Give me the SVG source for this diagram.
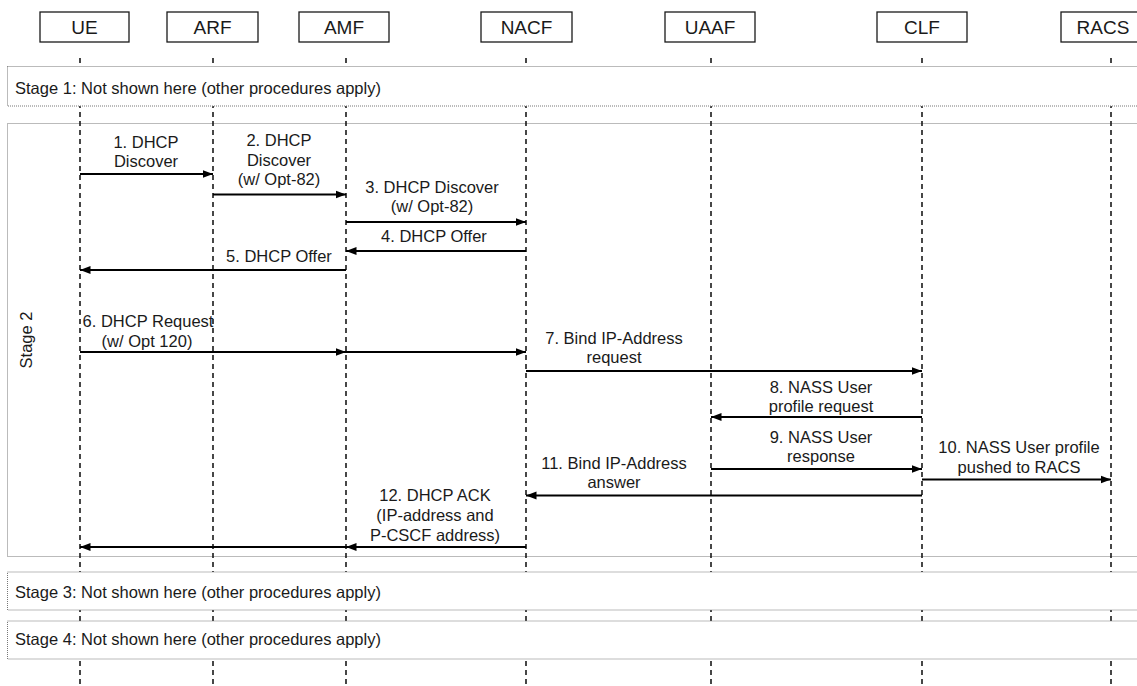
<svg xmlns="http://www.w3.org/2000/svg" width="1137" height="686" viewBox="0 0 1137 686">
<style>
text{font-family:"Liberation Sans",Arial,sans-serif;fill:#1a1a1a}
.hd{font-size:19px;text-anchor:middle}
.lb{font-size:16.5px;text-anchor:middle}
.st{font-size:16.5px}
.box{fill:#fff;stroke:#1a1a1a;stroke-width:1.3}
.life{stroke:#1a1a1a;stroke-width:1.6;stroke-dasharray:5,4;fill:none}
.stage{fill:#fff;stroke:#777;stroke-width:1;stroke-dasharray:1,1}
.stage2{fill:none;stroke:#777;stroke-width:1;stroke-dasharray:1,1}
.msg{stroke:#000;stroke-width:1.8;fill:none;marker-end:url(#ah)}
</style>
<defs>
<marker id="ah" markerUnits="userSpaceOnUse" markerWidth="11" markerHeight="9" refX="10.5" refY="4.5" orient="auto">
<path d="M0,0.5 L10.5,4.5 L0,8.5 z" fill="#000"/>
</marker>
</defs>
<rect width="1137" height="686" fill="#fff"/>
<rect class="stage2" x="7.5" y="123.5" width="1140" height="433"/>
<text class="st" transform="translate(32,340) rotate(-90)" text-anchor="middle">Stage 2</text>
<g id="UE"><rect class="box" x="40" y="12" width="89" height="30"/><text class="hd" x="84.5" y="33.5">UE</text><line class="life" x1="80" y1="58" x2="80" y2="686"/></g>
<g id="ARF"><rect class="box" x="167" y="12" width="91" height="30"/><text class="hd" x="212.5" y="33.5">ARF</text><line class="life" x1="213" y1="58" x2="213" y2="686"/></g>
<g id="AMF"><rect class="box" x="299" y="12" width="90" height="30"/><text class="hd" x="344" y="33.5">AMF</text><line class="life" x1="346" y1="58" x2="346" y2="686"/></g>
<g id="NACF"><rect class="box" x="481" y="12" width="91" height="30"/><text class="hd" x="526.5" y="33.5">NACF</text><line class="life" x1="526" y1="58" x2="526" y2="686"/></g>
<g id="UAAF"><rect class="box" x="665" y="12" width="90" height="30"/><text class="hd" x="710" y="33.5">UAAF</text><line class="life" x1="711" y1="58" x2="711" y2="686"/></g>
<g id="CLF"><rect class="box" x="877" y="12" width="90" height="30"/><text class="hd" x="922" y="33.5">CLF</text><line class="life" x1="922" y1="58" x2="922" y2="686"/></g>
<g id="RACS"><rect class="box" x="1061" y="12" width="90" height="30"/><text class="hd" x="1103" y="33.5">RACS</text><line class="life" x1="1111" y1="58" x2="1111" y2="686"/></g>
<rect class="stage" x="7.5" y="66.5" width="1140" height="39.5"/>
<text class="st" x="15" y="93.5">Stage 1: Not shown here (other procedures apply)</text>
<rect class="stage" x="7.5" y="572" width="1140" height="38"/>
<text class="st" x="15" y="598">Stage 3: Not shown here (other procedures apply)</text>
<rect class="stage" x="7.5" y="621" width="1140" height="38"/>
<text class="st" x="15" y="645">Stage 4: Not shown here (other procedures apply)</text>
<g id="connectors">
<line class="msg" x1="80" y1="174" x2="213" y2="174"/>
<line class="msg" x1="213" y1="194.5" x2="346" y2="194.5"/>
<line class="msg" x1="346" y1="222" x2="526" y2="222"/>
<line class="msg" x1="526" y1="251" x2="346" y2="251"/>
<line class="msg" x1="346" y1="270" x2="80" y2="270"/>
<line class="msg" x1="80" y1="352" x2="346" y2="352"/>
<line class="msg" x1="346" y1="352" x2="526" y2="352"/>
<line class="msg" x1="526" y1="371" x2="922" y2="371"/>
<line class="msg" x1="922" y1="417" x2="711" y2="417"/>
<line class="msg" x1="711" y1="469" x2="922" y2="469"/>
<line class="msg" x1="922" y1="479.5" x2="1111" y2="479.5"/>
<line class="msg" x1="922" y1="495.5" x2="526" y2="495.5"/>
<line class="msg" x1="526" y1="547" x2="346" y2="547"/>
<line class="msg" x1="346" y1="547" x2="80" y2="547"/>
</g>
<g id="labels">
<text class="lb" x="146" y="148">1. DHCP</text>
<text class="lb" x="146" y="167">Discover</text>
<text class="lb" x="279" y="146">2. DHCP</text>
<text class="lb" x="279" y="165.5">Discover</text>
<text class="lb" x="279" y="185">(w/ Opt-82)</text>
<text class="lb" x="432" y="192.5">3. DHCP Discover</text>
<text class="lb" x="432" y="212">(w/ Opt-82)</text>
<text class="lb" x="434" y="242">4. DHCP Offer</text>
<text class="lb" x="279" y="261.5">5. DHCP Offer</text>
<text class="lb" x="148" y="327">6. DHCP Request</text>
<text class="lb" x="147" y="346.5">(w/ Opt 120)</text>
<text class="lb" x="614" y="343.5">7. Bind IP-Address</text>
<text class="lb" x="614" y="363">request</text>
<text class="lb" x="821" y="392.5">8. NASS User</text>
<text class="lb" x="821" y="412">profile request</text>
<text class="lb" x="821" y="443">9. NASS User</text>
<text class="lb" x="821" y="462">response</text>
<text class="lb" x="1019" y="453">10. NASS User profile</text>
<text class="lb" x="1019" y="472.5">pushed to RACS</text>
<text class="lb" x="614" y="468.5">11. Bind IP-Address</text>
<text class="lb" x="614" y="488">answer</text>
<text class="lb" x="435" y="501">12. DHCP ACK</text>
<text class="lb" x="435" y="521">(IP-address and</text>
<text class="lb" x="435" y="541">P-CSCF address)</text>
</g>
</svg>
